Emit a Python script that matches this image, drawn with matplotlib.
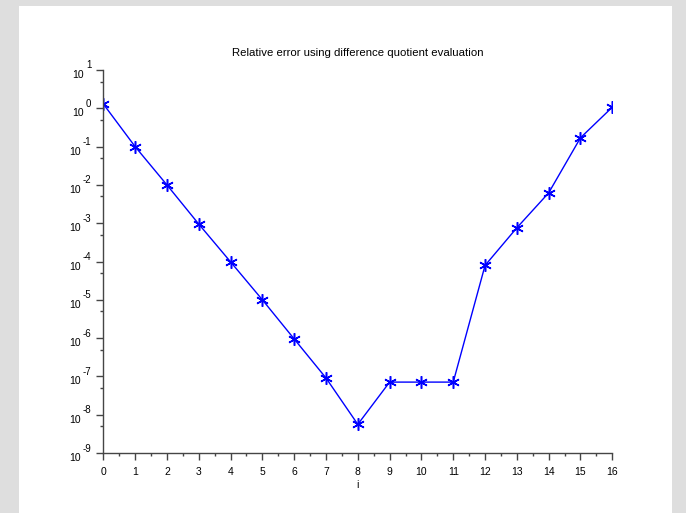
#Relative error of the difference quotient, log scale plot.
import numpy as np
import matplotlib
matplotlib.use("Agg")
import matplotlib.pyplot as plt
from matplotlib.patches import Rectangle
from matplotlib.ticker import FixedLocator
from matplotlib.transforms import offset_copy

plt.rcParams['font.family'] = ['Liberation Sans', 'DejaVu Sans']

#step index i (h = 10^-i) and the relative error
steps = list(range(17))
rel_error = [1.3, 1.0e-1, 1.0e-2, 9.5e-4, 9.8e-5, 1.0e-5, 9.5e-7, 9.1e-8, 5.6e-9,
             7.1e-8, 7.1e-8, 7.1e-8, 7.9e-5, 7.6e-4, 6.2e-3, 1.7e-1, 1.07]
decades = list(range(-9, 2))
title = "Relative error using difference quotient evaluation"
xlabel = "i"

fig = plt.figure(figsize=(6.86, 5.13), dpi=100)
fig.patch.set_facecolor('#dedede')
#white drawing area inside the grey window frame
fig.patches.append(Rectangle((19/686, 0), (672-19)/686, 507/513,
                             transform=fig.transFigure, facecolor='white',
                             edgecolor='none', zorder=-5))

ax = fig.add_axes([103.3/686, 60/513, 509/686, 383/513])
ax.set_facecolor('none')
ax.semilogy(steps, rel_error, color='#0000ff', lw=1.0, marker=(6, 2, 0),
            markersize=9, markeredgewidth=1.1)

ax.set_xlim(0, 16)
ax.set_ylim(1e-9, 1e1)
ax.set_xticks(steps)
ax.xaxis.set_minor_locator(FixedLocator(np.arange(0.5, 16, 1)))
ax.set_yticks([10.0**k for k in decades])
ax.set_yticklabels([])
ax.yaxis.set_minor_locator(FixedLocator([5 * 10.0**k for k in range(-9, 1)]))

for s in ['top', 'right']:
    ax.spines[s].set_visible(False)
for s in ['left', 'bottom']:
    ax.spines[s].set_color('#454545')
    ax.spines[s].set_linewidth(1.0)

ax.tick_params(which='major', direction='out', length=5, width=1,
               color='#454545', labelsize=7.5, pad=5)
ax.tick_params(which='minor', direction='out', length=2.5, width=1,
               color='#454545')

#y labels drawn as "10" plus a raised exponent, scilab style
fig.canvas.draw()
renderer = fig.canvas.get_renderer()
for k in decades:
    yv = 10.0**k
    tr = offset_copy(ax.get_yaxis_transform(), fig=fig, x=-12, y=4.5, units='dots')
    ex = ax.text(0, yv, str(k), transform=tr, ha='right', va='center',
                 fontsize=7, clip_on=False)
    w = ex.get_window_extent(renderer).width
    tr2 = offset_copy(ax.get_yaxis_transform(), fig=fig, x=-14 - w, y=-5,
                      units='dots')
    ax.text(0, yv, "10", transform=tr2, ha='right', va='center',
            fontsize=7.5, clip_on=False)

ax.set_title(title, fontsize=8.2, pad=10)
ax.set_xlabel(xlabel, fontsize=7.5, labelpad=2)

fig.savefig("out.png", dpi=100, facecolor=fig.get_facecolor())
